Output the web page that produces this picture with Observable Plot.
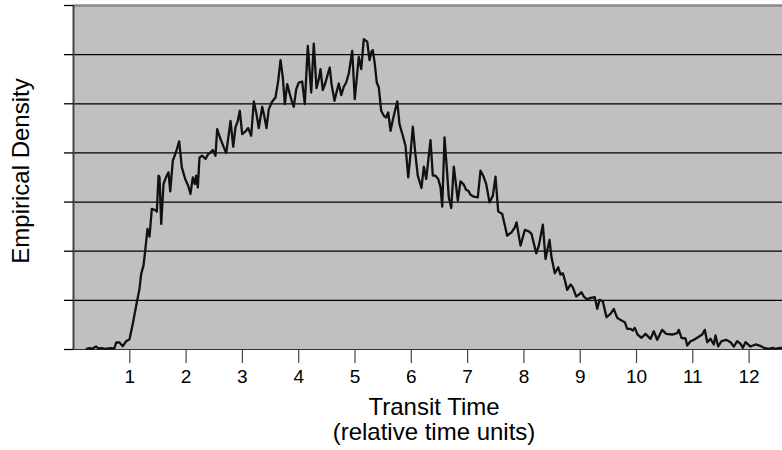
<!DOCTYPE html>
<html><head><meta charset="utf-8">
<script src="https://cdn.jsdelivr.net/npm/d3@7"></script>
<script src="https://cdn.jsdelivr.net/npm/@observablehq/plot@0.6"></script>
<style>html,body{margin:0;padding:0;background:#fff;}</style>
</head><body><div id="chart"></div>
<script>
const times = [0.236,0.284,0.325,0.403,0.444,0.503,0.563,0.652,0.723,0.758,0.817,0.876,0.936,0.995,1.053,1.114,1.172,1.202,1.243,1.274,1.314,1.350,1.391,1.451,1.480,1.510,1.528,1.558,1.599,1.647,1.687,1.718,1.764,1.824,1.877,1.924,1.984,2.037,2.078,2.119,2.155,2.179,2.208,2.238,2.286,2.345,2.393,2.433,2.474,2.522,2.552,2.611,2.670,2.712,2.758,2.789,2.837,2.877,2.918,2.954,2.996,3.055,3.103,3.156,3.203,3.245,3.291,3.352,3.387,3.428,3.469,3.529,3.588,3.636,3.677,3.718,3.753,3.796,3.842,3.885,3.913,3.956,4.002,4.062,4.108,4.162,4.222,4.268,4.316,4.357,4.387,4.428,4.476,4.517,4.552,4.583,4.636,4.666,4.712,4.755,4.801,4.844,4.890,4.950,4.996,5.039,5.067,5.110,5.156,5.217,5.258,5.293,5.316,5.352,5.387,5.423,5.465,5.512,5.554,5.590,5.631,5.671,5.750,5.790,5.849,5.897,5.945,5.986,6.027,6.075,6.115,6.181,6.222,6.265,6.341,6.382,6.430,6.478,6.519,6.549,6.590,6.638,6.666,6.709,6.755,6.785,6.826,6.874,6.933,6.975,7.011,7.052,7.110,7.181,7.229,7.277,7.330,7.389,7.448,7.496,7.543,7.615,7.703,7.780,7.838,7.869,7.940,8.016,8.087,8.135,8.219,8.265,8.336,8.384,8.414,8.455,8.490,8.549,8.609,8.650,8.691,8.726,8.769,8.828,8.869,8.929,8.975,9.023,9.064,9.124,9.183,9.259,9.302,9.343,9.401,9.467,9.538,9.597,9.657,9.734,9.792,9.835,9.893,9.934,9.970,10.018,10.089,10.160,10.249,10.307,10.368,10.456,10.528,10.634,10.723,10.751,10.799,10.870,10.901,10.959,11.018,11.078,11.167,11.213,11.256,11.314,11.373,11.403,11.451,11.510,11.593,11.670,11.728,11.789,11.847,11.888,11.936,12.025,12.114,12.185,12.261,12.350,12.421,12.469,12.540,12.588];
const density = [0.014,0.026,0.014,0.061,0.020,0.026,0.014,0.026,0.020,0.142,0.142,0.067,0.169,0.209,0.522,0.894,1.234,1.539,1.707,2.012,2.453,2.297,2.860,2.839,2.805,3.537,3.502,2.555,3.368,3.516,3.604,3.217,3.841,4.030,4.234,3.705,3.470,3.333,3.165,3.502,3.368,3.537,3.299,3.909,3.943,3.876,3.978,4.010,4.059,3.943,4.486,4.283,4.112,3.998,4.384,4.654,4.126,4.518,4.654,4.858,4.384,4.437,4.506,4.350,5.047,4.823,4.506,4.939,4.756,4.506,4.892,5.047,5.128,5.467,5.888,5.535,4.994,5.400,5.197,5.026,4.939,5.299,5.433,5.453,4.994,6.179,5.230,6.226,5.319,5.502,5.705,5.278,5.433,5.604,5.738,5.400,5.061,5.209,5.413,5.177,5.346,5.433,5.616,6.077,5.096,5.616,5.955,5.705,6.315,6.266,5.888,6.063,6.091,5.807,5.433,5.331,4.858,4.756,4.722,4.823,4.451,4.669,5.047,4.587,4.350,4.146,3.502,3.978,4.533,3.943,3.537,3.287,3.720,3.470,4.262,3.537,3.537,3.470,3.299,2.907,4.315,3.571,3.096,2.880,3.720,3.435,3.028,3.421,3.354,3.246,3.232,3.150,3.110,3.096,3.638,3.537,3.368,2.994,3.130,3.516,2.811,2.758,2.317,2.384,2.486,2.587,2.114,2.433,2.404,2.352,1.957,2.114,2.541,1.843,2.012,2.230,1.876,1.551,1.673,1.524,1.551,1.417,1.213,1.321,1.266,1.077,1.118,1.165,1.077,1.022,1.051,1.063,0.827,1.010,0.982,0.657,0.726,0.827,0.644,0.589,0.555,0.421,0.421,0.386,0.441,0.305,0.238,0.319,0.217,0.372,0.197,0.400,0.319,0.305,0.331,0.400,0.238,0.224,0.081,0.169,0.197,0.238,0.305,0.400,0.148,0.217,0.102,0.285,0.061,0.169,0.197,0.148,0.061,0.169,0.116,0.035,0.148,0.061,0.102,0.081,0.035,0.014,0.035,0.014,0.035,0.035];
const xTicks = [1,2,3,4,5,6,7,8,9,10,11,12];
const yTicks = [0,1,2,3,4,5,6,7];
const gridLevels = [1,2,3,4,5,6];
const xDomain = [0, 12.593];
const yDomain = [0, 7];
const xTitle = "Transit Time\n(relative time units)";
const yTitle = "Empirical Density";

const data = times.map((t, i) => ({t, d: density[i]}));
const font = "'Liberation Sans', Arial, Helvetica, sans-serif";

const chart = Plot.plot({
  width: 782,
  height: 450,
  marginLeft: 73,
  marginRight: 0,
  marginTop: 5,
  marginBottom: 101,
  style: {fontFamily: font, background: "#fff", color: "#000"},
  x: {domain: xDomain},
  y: {domain: yDomain},
  marks: [
    Plot.frame({fill: "#c0c0c0", stroke: null}),
    Plot.ruleY(gridLevels, {stroke: "#000", strokeWidth: 1.3}),
    Plot.ruleY([yDomain[1]], {stroke: "#8a8a8a", strokeWidth: 2.5}),
    Plot.ruleY([0], {stroke: "#333", strokeWidth: 1.2}),
    Plot.ruleX([0], {stroke: "#444", strokeWidth: 2}),
    Plot.axisY({ticks: yTicks, tickSize: 9, tickFormat: () => "", label: null, stroke: "#000", strokeWidth: 1.3}),
    Plot.axisX({ticks: xTicks, tickSize: 14, tickPadding: 6, tickFormat: d => String(d), label: null, fontSize: 19, stroke: "#444", strokeWidth: 1.2}),
    Plot.line(data, {x: "t", y: "d", stroke: "#111", strokeWidth: 2.3, strokeLinejoin: "round"}),
    Plot.text([xTitle], {text: d => d, frameAnchor: "bottom", textAnchor: "middle", lineAnchor: "bottom", lineHeight: 1.04, dx: 6, dy: 90, fontSize: 24, fill: "#000"}),
    Plot.text([yTitle], {text: d => d, frameAnchor: "left", textAnchor: "middle", rotate: -90, lineAnchor: "middle", dx: -52, dy: -6.5, fontSize: 24, fill: "#000"})
  ]
});
document.getElementById("chart").appendChild(chart);
</script>
</body></html>
